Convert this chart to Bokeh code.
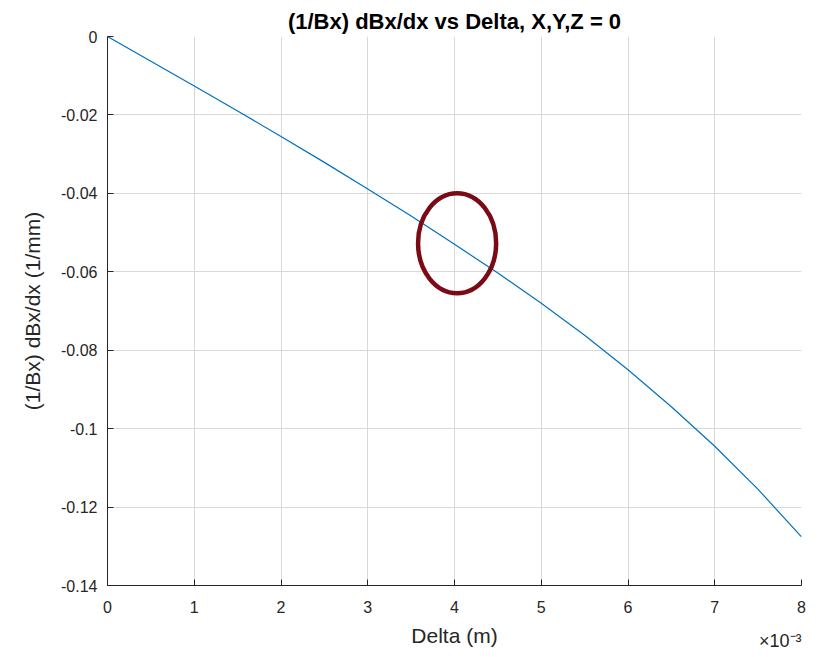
from bokeh.plotting import figure
from bokeh.models import Range1d, FixedTicker, CustomJSTickFormatter, Title
from bokeh.embed import file_html
from bokeh.resources import INLINE

# Data (Delta in units of 1e-3 m)
delta_e3 = [0, 0.5, 1, 1.5, 2, 2.5, 3, 3.5, 4, 4.5, 5, 5.5, 6, 6.5, 7, 7.5, 8]
grad = [0.0, -0.0063, -0.0126, -0.0190, -0.0255, -0.0321, -0.0389, -0.0458,
        -0.0530, -0.0603, -0.0680, -0.0762, -0.0850, -0.0944, -0.1045, -0.1155, -0.1276]
x_ticks = [0, 1, 2, 3, 4, 5, 6, 7, 8]
y_ticks = [0, -0.02, -0.04, -0.06, -0.08, -0.1, -0.12, -0.14]
mark_center = [4.03, -0.0527]
mark_size = [0.9, 0.0255]

FONT = "Liberation Sans"
DARK = "#262626"

p = figure(width=819, height=657, output_backend="svg", toolbar_location=None,
           x_range=Range1d(0, 8), y_range=Range1d(-0.14, 0),
           min_border_left=107, min_border_right=18, min_border_top=36, min_border_bottom=72)
p.outline_line_color = None
p.background_fill_color = "white"
p.border_fill_color = "white"

t = Title(text="(1/Bx) dBx/dx vs Delta, X,Y,Z = 0", text_font=FONT, text_font_size="22px",
          text_font_style="bold", text_color="#000000", align="center", standoff=6)
p.add_layout(t, "above")

for ax in (p.xaxis[0], p.yaxis[0]):
    ax.axis_line_color = DARK
    ax.axis_line_width = 1
    ax.major_tick_in = 6
    ax.major_tick_out = 0
    ax.minor_tick_in = 0
    ax.minor_tick_out = 0
    ax.major_tick_line_color = DARK
    ax.major_label_text_font = FONT
    ax.major_label_text_font_size = "16px"
    ax.major_label_text_color = DARK
    ax.axis_label_text_font = FONT
    ax.axis_label_text_font_size = "21px"
    ax.axis_label_text_font_style = "normal"
    ax.axis_label_text_color = DARK

p.xaxis[0].ticker = FixedTicker(ticks=x_ticks)
p.yaxis[0].ticker = FixedTicker(ticks=y_ticks)
fmt = CustomJSTickFormatter(code="var v = parseFloat(tick.toFixed(4)); return v === 0 ? '0' : v.toString();")
p.xaxis[0].formatter = fmt
p.yaxis[0].formatter = fmt
p.xaxis[0].axis_label = "Delta (m)"
p.yaxis[0].axis_label = "(1/Bx) dBx/dx (1/mm)"
p.xaxis[0].major_label_standoff = 15
p.xaxis[0].axis_label_standoff = 8
p.yaxis[0].major_label_standoff = 10
p.yaxis[0].axis_label_standoff = 14

p.xgrid.ticker = FixedTicker(ticks=x_ticks)
p.ygrid.ticker = FixedTicker(ticks=y_ticks)
for g in (p.xgrid[0], p.ygrid[0]):
    g.grid_line_color = "#d9d9d9"
    g.grid_line_width = 1

p.line(delta_e3, grad, line_color="#0072BD", line_width=1.2)

p.ellipse(x=[mark_center[0]], y=[mark_center[1]], width=[mark_size[0]], height=[mark_size[1]],
          fill_color=None, line_color="#7A0A16", line_width=4.5)

sci = Title(text="×10⁻³", text_font=FONT, text_font_size="18px", text_font_style="normal",
            text_color=DARK, align="right", vertical_align="top", standoff=-38)
p.add_layout(sci, "below")

open("out.html", "w").write(file_html(p, INLINE))
